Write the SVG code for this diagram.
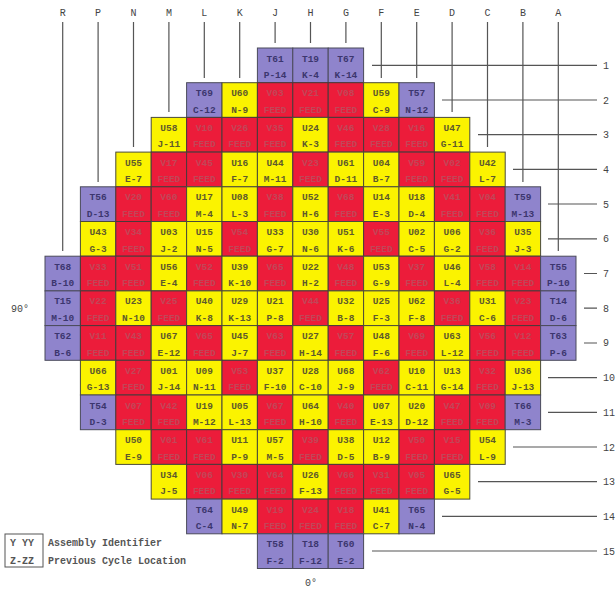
<svg xmlns="http://www.w3.org/2000/svg" width="616" height="591" viewBox="0 0 616 591">
<style>
.p{fill:#8f84cc;stroke:#4a4a5a;stroke-width:1}
.y{fill:#fbf300;stroke:#4a4a3a;stroke-width:1}
.r{fill:#ec1c3a;stroke:#4a3a3a;stroke-width:1}
text{font-family:"Liberation Mono","DejaVu Sans Mono",monospace;font-size:9.5px;font-weight:bold;text-anchor:middle}
.tp{fill:#3c366e}
.ty{fill:#5e5a2c}
.tr{fill:#c24658}
.lab{fill:#444;font-weight:normal;font-size:10px}
.leg{fill:#555;font-size:10px;text-anchor:start}
.ln{stroke:#555;stroke-width:1.2;fill:none}
</style>
<rect width="616" height="591" fill="#fff"/>
<g id="labels">
<text class="lab" x="62.7" y="16">R</text><text class="lab" x="98.1" y="16">P</text><text class="lab" x="133.5" y="16">N</text><text class="lab" x="168.9" y="16">M</text><text class="lab" x="204.3" y="16">L</text><text class="lab" x="239.7" y="16">K</text><text class="lab" x="275.1" y="16">J</text><text class="lab" x="310.5" y="16">H</text><text class="lab" x="345.9" y="16">G</text><text class="lab" x="381.3" y="16">F</text><text class="lab" x="416.7" y="16">E</text><text class="lab" x="452.1" y="16">D</text><text class="lab" x="487.5" y="16">C</text><text class="lab" x="522.9" y="16">B</text><text class="lab" x="558.3" y="16">A</text>
<g style="text-anchor:start">
<text class="lab" x="603" y="69" style="text-anchor:start">1</text><text class="lab" x="603" y="104" style="text-anchor:start">2</text><text class="lab" x="603" y="138" style="text-anchor:start">3</text><text class="lab" x="603" y="173" style="text-anchor:start">4</text><text class="lab" x="603" y="208" style="text-anchor:start">5</text><text class="lab" x="603" y="242" style="text-anchor:start">6</text><text class="lab" x="603" y="277" style="text-anchor:start">7</text><text class="lab" x="603" y="312" style="text-anchor:start">8</text><text class="lab" x="603" y="346" style="text-anchor:start">9</text><text class="lab" x="603" y="381" style="text-anchor:start">10</text><text class="lab" x="603" y="416" style="text-anchor:start">11</text><text class="lab" x="603" y="451" style="text-anchor:start">12</text><text class="lab" x="603" y="485" style="text-anchor:start">13</text><text class="lab" x="603" y="520" style="text-anchor:start">14</text><text class="lab" x="603" y="555" style="text-anchor:start">15</text>
</g>
<text class="lab" x="20" y="312">90°</text>
<text class="lab" x="311" y="586">0°</text>
</g>
<g id="connectors">
<path class="ln" d="M62.7 22V251M98.1 22V182M133.5 22V147M168.9 22V112M204.3 22V78M239.7 22V78M275.1 22V43M310.5 22V43M345.9 22V43M381.3 22V78M416.7 22V78M452.1 22V112M487.5 22V147M522.9 22V182M558.3 22V251"/>
<path class="ln" d="M372 65.4H597M442 100H597M478 134.7H597M513 169.4H597M548 204H597M548 238.8H597M584 273.5H597M584 308.2H597M584 343H597M548 377.6H597M548 412.3H597M513 447H597M478 481.7H597M442 516.4H597M372 551H597"/>
</g>
<g id="legend">
<rect x="5" y="534" width="38" height="33" fill="none" stroke="#555" stroke-width="1"/>
<text class="leg" x="10" y="546">Y YY</text>
<text class="leg" x="10" y="564">Z-ZZ</text>
<text class="leg" x="48" y="546">Assembly Identifier</text>
<text class="leg" x="48" y="564">Previous Cycle Location</text>
</g>
<g id="core">
<!-- row 1 -->
<g id="J1" transform="translate(257.4,48)"><rect class="p" width="35.4" height="34.7"/><text class="tp" x="17.7" y="13.5">T61</text><text class="tp" x="17.7" y="30">P-14</text></g>
<g id="H1" transform="translate(292.8,48)"><rect class="p" width="35.4" height="34.7"/><text class="tp" x="17.7" y="13.5">T19</text><text class="tp" x="17.7" y="30">K-4</text></g>
<g id="G1" transform="translate(328.2,48)"><rect class="p" width="35.4" height="34.7"/><text class="tp" x="17.7" y="13.5">T67</text><text class="tp" x="17.7" y="30">K-14</text></g>
<!-- row 2 -->
<g id="L2" transform="translate(186.6,82.7)"><rect class="p" width="35.4" height="34.7"/><text class="tp" x="17.7" y="13.5">T69</text><text class="tp" x="17.7" y="30">C-12</text></g>
<g id="K2" transform="translate(222,82.7)"><rect class="y" width="35.4" height="34.7"/><text class="ty" x="17.7" y="13.5">U60</text><text class="ty" x="17.7" y="30">N-9</text></g>
<g id="J2" transform="translate(257.4,82.7)"><rect class="r" width="35.4" height="34.7"/><text class="tr" x="17.7" y="13.5">V03</text><text class="tr" x="17.7" y="30">FEED</text></g>
<g id="H2" transform="translate(292.8,82.7)"><rect class="r" width="35.4" height="34.7"/><text class="tr" x="17.7" y="13.5">V21</text><text class="tr" x="17.7" y="30">FEED</text></g>
<g id="G2" transform="translate(328.2,82.7)"><rect class="r" width="35.4" height="34.7"/><text class="tr" x="17.7" y="13.5">V08</text><text class="tr" x="17.7" y="30">FEED</text></g>
<g id="F2" transform="translate(363.6,82.7)"><rect class="y" width="35.4" height="34.7"/><text class="ty" x="17.7" y="13.5">U59</text><text class="ty" x="17.7" y="30">C-9</text></g>
<g id="E2" transform="translate(399,82.7)"><rect class="p" width="35.4" height="34.7"/><text class="tp" x="17.7" y="13.5">T57</text><text class="tp" x="17.7" y="30">N-12</text></g>
<!-- row 3 -->
<g id="M3" transform="translate(151.2,117.4)"><rect class="y" width="35.4" height="34.7"/><text class="ty" x="17.7" y="13.5">U58</text><text class="ty" x="17.7" y="30">J-11</text></g>
<g id="L3" transform="translate(186.6,117.4)"><rect class="r" width="35.4" height="34.7"/><text class="tr" x="17.7" y="13.5">V10</text><text class="tr" x="17.7" y="30">FEED</text></g>
<g id="K3" transform="translate(222,117.4)"><rect class="r" width="35.4" height="34.7"/><text class="tr" x="17.7" y="13.5">V26</text><text class="tr" x="17.7" y="30">FEED</text></g>
<g id="J3" transform="translate(257.4,117.4)"><rect class="r" width="35.4" height="34.7"/><text class="tr" x="17.7" y="13.5">V35</text><text class="tr" x="17.7" y="30">FEED</text></g>
<g id="H3" transform="translate(292.8,117.4)"><rect class="y" width="35.4" height="34.7"/><text class="ty" x="17.7" y="13.5">U24</text><text class="ty" x="17.7" y="30">K-3</text></g>
<g id="G3" transform="translate(328.2,117.4)"><rect class="r" width="35.4" height="34.7"/><text class="tr" x="17.7" y="13.5">V46</text><text class="tr" x="17.7" y="30">FEED</text></g>
<g id="F3" transform="translate(363.6,117.4)"><rect class="r" width="35.4" height="34.7"/><text class="tr" x="17.7" y="13.5">V28</text><text class="tr" x="17.7" y="30">FEED</text></g>
<g id="E3" transform="translate(399,117.4)"><rect class="r" width="35.4" height="34.7"/><text class="tr" x="17.7" y="13.5">V16</text><text class="tr" x="17.7" y="30">FEED</text></g>
<g id="D3" transform="translate(434.4,117.4)"><rect class="y" width="35.4" height="34.7"/><text class="ty" x="17.7" y="13.5">U47</text><text class="ty" x="17.7" y="30">G-11</text></g>
<!-- row 4 -->
<g id="N4" transform="translate(115.8,152.1)"><rect class="y" width="35.4" height="34.7"/><text class="ty" x="17.7" y="13.5">U55</text><text class="ty" x="17.7" y="30">E-7</text></g>
<g id="M4" transform="translate(151.2,152.1)"><rect class="r" width="35.4" height="34.7"/><text class="tr" x="17.7" y="13.5">V17</text><text class="tr" x="17.7" y="30">FEED</text></g>
<g id="L4" transform="translate(186.6,152.1)"><rect class="r" width="35.4" height="34.7"/><text class="tr" x="17.7" y="13.5">V45</text><text class="tr" x="17.7" y="30">FEED</text></g>
<g id="K4" transform="translate(222,152.1)"><rect class="y" width="35.4" height="34.7"/><text class="ty" x="17.7" y="13.5">U16</text><text class="ty" x="17.7" y="30">F-7</text></g>
<g id="J4" transform="translate(257.4,152.1)"><rect class="y" width="35.4" height="34.7"/><text class="ty" x="17.7" y="13.5">U44</text><text class="ty" x="17.7" y="30">M-11</text></g>
<g id="H4" transform="translate(292.8,152.1)"><rect class="r" width="35.4" height="34.7"/><text class="tr" x="17.7" y="13.5">V23</text><text class="tr" x="17.7" y="30">FEED</text></g>
<g id="G4" transform="translate(328.2,152.1)"><rect class="y" width="35.4" height="34.7"/><text class="ty" x="17.7" y="13.5">U61</text><text class="ty" x="17.7" y="30">D-11</text></g>
<g id="F4" transform="translate(363.6,152.1)"><rect class="y" width="35.4" height="34.7"/><text class="ty" x="17.7" y="13.5">U04</text><text class="ty" x="17.7" y="30">B-7</text></g>
<g id="E4" transform="translate(399,152.1)"><rect class="r" width="35.4" height="34.7"/><text class="tr" x="17.7" y="13.5">V59</text><text class="tr" x="17.7" y="30">FEED</text></g>
<g id="D4" transform="translate(434.4,152.1)"><rect class="r" width="35.4" height="34.7"/><text class="tr" x="17.7" y="13.5">V02</text><text class="tr" x="17.7" y="30">FEED</text></g>
<g id="C4" transform="translate(469.8,152.1)"><rect class="y" width="35.4" height="34.7"/><text class="ty" x="17.7" y="13.5">U42</text><text class="ty" x="17.7" y="30">L-7</text></g>
<!-- row 5 -->
<g id="P5" transform="translate(80.4,186.8)"><rect class="p" width="35.4" height="34.7"/><text class="tp" x="17.7" y="13.5">T56</text><text class="tp" x="17.7" y="30">D-13</text></g>
<g id="N5" transform="translate(115.8,186.8)"><rect class="r" width="35.4" height="34.7"/><text class="tr" x="17.7" y="13.5">V20</text><text class="tr" x="17.7" y="30">FEED</text></g>
<g id="M5" transform="translate(151.2,186.8)"><rect class="r" width="35.4" height="34.7"/><text class="tr" x="17.7" y="13.5">V60</text><text class="tr" x="17.7" y="30">FEED</text></g>
<g id="L5" transform="translate(186.6,186.8)"><rect class="y" width="35.4" height="34.7"/><text class="ty" x="17.7" y="13.5">U17</text><text class="ty" x="17.7" y="30">M-4</text></g>
<g id="K5" transform="translate(222,186.8)"><rect class="y" width="35.4" height="34.7"/><text class="ty" x="17.7" y="13.5">U08</text><text class="ty" x="17.7" y="30">L-3</text></g>
<g id="J5" transform="translate(257.4,186.8)"><rect class="r" width="35.4" height="34.7"/><text class="tr" x="17.7" y="13.5">V38</text><text class="tr" x="17.7" y="30">FEED</text></g>
<g id="H5" transform="translate(292.8,186.8)"><rect class="y" width="35.4" height="34.7"/><text class="ty" x="17.7" y="13.5">U52</text><text class="ty" x="17.7" y="30">H-6</text></g>
<g id="G5" transform="translate(328.2,186.8)"><rect class="r" width="35.4" height="34.7"/><text class="tr" x="17.7" y="13.5">V68</text><text class="tr" x="17.7" y="30">FEED</text></g>
<g id="F5" transform="translate(363.6,186.8)"><rect class="y" width="35.4" height="34.7"/><text class="ty" x="17.7" y="13.5">U14</text><text class="ty" x="17.7" y="30">E-3</text></g>
<g id="E5" transform="translate(399,186.8)"><rect class="y" width="35.4" height="34.7"/><text class="ty" x="17.7" y="13.5">U18</text><text class="ty" x="17.7" y="30">D-4</text></g>
<g id="D5" transform="translate(434.4,186.8)"><rect class="r" width="35.4" height="34.7"/><text class="tr" x="17.7" y="13.5">V41</text><text class="tr" x="17.7" y="30">FEED</text></g>
<g id="C5" transform="translate(469.8,186.8)"><rect class="r" width="35.4" height="34.7"/><text class="tr" x="17.7" y="13.5">V04</text><text class="tr" x="17.7" y="30">FEED</text></g>
<g id="B5" transform="translate(505.2,186.8)"><rect class="p" width="35.4" height="34.7"/><text class="tp" x="17.7" y="13.5">T59</text><text class="tp" x="17.7" y="30">M-13</text></g>
<!-- row 6 -->
<g id="P6" transform="translate(80.4,221.5)"><rect class="y" width="35.4" height="34.7"/><text class="ty" x="17.7" y="13.5">U43</text><text class="ty" x="17.7" y="30">G-3</text></g>
<g id="N6" transform="translate(115.8,221.5)"><rect class="r" width="35.4" height="34.7"/><text class="tr" x="17.7" y="13.5">V34</text><text class="tr" x="17.7" y="30">FEED</text></g>
<g id="M6" transform="translate(151.2,221.5)"><rect class="y" width="35.4" height="34.7"/><text class="ty" x="17.7" y="13.5">U03</text><text class="ty" x="17.7" y="30">J-2</text></g>
<g id="L6" transform="translate(186.6,221.5)"><rect class="y" width="35.4" height="34.7"/><text class="ty" x="17.7" y="13.5">U15</text><text class="ty" x="17.7" y="30">N-5</text></g>
<g id="K6" transform="translate(222,221.5)"><rect class="r" width="35.4" height="34.7"/><text class="tr" x="17.7" y="13.5">V54</text><text class="tr" x="17.7" y="30">FEED</text></g>
<g id="J6" transform="translate(257.4,221.5)"><rect class="y" width="35.4" height="34.7"/><text class="ty" x="17.7" y="13.5">U33</text><text class="ty" x="17.7" y="30">G-7</text></g>
<g id="H6" transform="translate(292.8,221.5)"><rect class="y" width="35.4" height="34.7"/><text class="ty" x="17.7" y="13.5">U30</text><text class="ty" x="17.7" y="30">N-6</text></g>
<g id="G6" transform="translate(328.2,221.5)"><rect class="y" width="35.4" height="34.7"/><text class="ty" x="17.7" y="13.5">U51</text><text class="ty" x="17.7" y="30">K-6</text></g>
<g id="F6" transform="translate(363.6,221.5)"><rect class="r" width="35.4" height="34.7"/><text class="tr" x="17.7" y="13.5">V55</text><text class="tr" x="17.7" y="30">FEED</text></g>
<g id="E6" transform="translate(399,221.5)"><rect class="y" width="35.4" height="34.7"/><text class="ty" x="17.7" y="13.5">U02</text><text class="ty" x="17.7" y="30">C-5</text></g>
<g id="D6" transform="translate(434.4,221.5)"><rect class="y" width="35.4" height="34.7"/><text class="ty" x="17.7" y="13.5">U06</text><text class="ty" x="17.7" y="30">G-2</text></g>
<g id="C6" transform="translate(469.8,221.5)"><rect class="r" width="35.4" height="34.7"/><text class="tr" x="17.7" y="13.5">V36</text><text class="tr" x="17.7" y="30">FEED</text></g>
<g id="B6" transform="translate(505.2,221.5)"><rect class="y" width="35.4" height="34.7"/><text class="ty" x="17.7" y="13.5">U35</text><text class="ty" x="17.7" y="30">J-3</text></g>
<!-- row 7 -->
<g id="R7" transform="translate(45,256.2)"><rect class="p" width="35.4" height="34.7"/><text class="tp" x="17.7" y="13.5">T68</text><text class="tp" x="17.7" y="30">B-10</text></g>
<g id="P7" transform="translate(80.4,256.2)"><rect class="r" width="35.4" height="34.7"/><text class="tr" x="17.7" y="13.5">V33</text><text class="tr" x="17.7" y="30">FEED</text></g>
<g id="N7" transform="translate(115.8,256.2)"><rect class="r" width="35.4" height="34.7"/><text class="tr" x="17.7" y="13.5">V51</text><text class="tr" x="17.7" y="30">FEED</text></g>
<g id="M7" transform="translate(151.2,256.2)"><rect class="y" width="35.4" height="34.7"/><text class="ty" x="17.7" y="13.5">U56</text><text class="ty" x="17.7" y="30">E-4</text></g>
<g id="L7" transform="translate(186.6,256.2)"><rect class="r" width="35.4" height="34.7"/><text class="tr" x="17.7" y="13.5">V52</text><text class="tr" x="17.7" y="30">FEED</text></g>
<g id="K7" transform="translate(222,256.2)"><rect class="y" width="35.4" height="34.7"/><text class="ty" x="17.7" y="13.5">U39</text><text class="ty" x="17.7" y="30">K-10</text></g>
<g id="J7" transform="translate(257.4,256.2)"><rect class="r" width="35.4" height="34.7"/><text class="tr" x="17.7" y="13.5">V65</text><text class="tr" x="17.7" y="30">FEED</text></g>
<g id="H7" transform="translate(292.8,256.2)"><rect class="y" width="35.4" height="34.7"/><text class="ty" x="17.7" y="13.5">U22</text><text class="ty" x="17.7" y="30">H-2</text></g>
<g id="G7" transform="translate(328.2,256.2)"><rect class="r" width="35.4" height="34.7"/><text class="tr" x="17.7" y="13.5">V48</text><text class="tr" x="17.7" y="30">FEED</text></g>
<g id="F7" transform="translate(363.6,256.2)"><rect class="y" width="35.4" height="34.7"/><text class="ty" x="17.7" y="13.5">U53</text><text class="ty" x="17.7" y="30">G-9</text></g>
<g id="E7" transform="translate(399,256.2)"><rect class="r" width="35.4" height="34.7"/><text class="tr" x="17.7" y="13.5">V37</text><text class="tr" x="17.7" y="30">FEED</text></g>
<g id="D7" transform="translate(434.4,256.2)"><rect class="y" width="35.4" height="34.7"/><text class="ty" x="17.7" y="13.5">U46</text><text class="ty" x="17.7" y="30">L-4</text></g>
<g id="C7" transform="translate(469.8,256.2)"><rect class="r" width="35.4" height="34.7"/><text class="tr" x="17.7" y="13.5">V58</text><text class="tr" x="17.7" y="30">FEED</text></g>
<g id="B7" transform="translate(505.2,256.2)"><rect class="r" width="35.4" height="34.7"/><text class="tr" x="17.7" y="13.5">V14</text><text class="tr" x="17.7" y="30">FEED</text></g>
<g id="A7" transform="translate(540.6,256.2)"><rect class="p" width="35.4" height="34.7"/><text class="tp" x="17.7" y="13.5">T55</text><text class="tp" x="17.7" y="30">P-10</text></g>
<!-- row 8 -->
<g id="R8" transform="translate(45,290.9)"><rect class="p" width="35.4" height="34.7"/><text class="tp" x="17.7" y="13.5">T15</text><text class="tp" x="17.7" y="30">M-10</text></g>
<g id="P8" transform="translate(80.4,290.9)"><rect class="r" width="35.4" height="34.7"/><text class="tr" x="17.7" y="13.5">V22</text><text class="tr" x="17.7" y="30">FEED</text></g>
<g id="N8" transform="translate(115.8,290.9)"><rect class="y" width="35.4" height="34.7"/><text class="ty" x="17.7" y="13.5">U23</text><text class="ty" x="17.7" y="30">N-10</text></g>
<g id="M8" transform="translate(151.2,290.9)"><rect class="r" width="35.4" height="34.7"/><text class="tr" x="17.7" y="13.5">V25</text><text class="tr" x="17.7" y="30">FEED</text></g>
<g id="L8" transform="translate(186.6,290.9)"><rect class="y" width="35.4" height="34.7"/><text class="ty" x="17.7" y="13.5">U40</text><text class="ty" x="17.7" y="30">K-8</text></g>
<g id="K8" transform="translate(222,290.9)"><rect class="y" width="35.4" height="34.7"/><text class="ty" x="17.7" y="13.5">U29</text><text class="ty" x="17.7" y="30">K-13</text></g>
<g id="J8" transform="translate(257.4,290.9)"><rect class="y" width="35.4" height="34.7"/><text class="ty" x="17.7" y="13.5">U21</text><text class="ty" x="17.7" y="30">P-8</text></g>
<g id="H8" transform="translate(292.8,290.9)"><rect class="r" width="35.4" height="34.7"/><text class="tr" x="17.7" y="13.5">V44</text><text class="tr" x="17.7" y="30">FEED</text></g>
<g id="G8" transform="translate(328.2,290.9)"><rect class="y" width="35.4" height="34.7"/><text class="ty" x="17.7" y="13.5">U32</text><text class="ty" x="17.7" y="30">B-8</text></g>
<g id="F8" transform="translate(363.6,290.9)"><rect class="y" width="35.4" height="34.7"/><text class="ty" x="17.7" y="13.5">U25</text><text class="ty" x="17.7" y="30">F-3</text></g>
<g id="E8" transform="translate(399,290.9)"><rect class="y" width="35.4" height="34.7"/><text class="ty" x="17.7" y="13.5">U62</text><text class="ty" x="17.7" y="30">F-8</text></g>
<g id="D8" transform="translate(434.4,290.9)"><rect class="r" width="35.4" height="34.7"/><text class="tr" x="17.7" y="13.5">V36</text><text class="tr" x="17.7" y="30">FEED</text></g>
<g id="C8" transform="translate(469.8,290.9)"><rect class="y" width="35.4" height="34.7"/><text class="ty" x="17.7" y="13.5">U31</text><text class="ty" x="17.7" y="30">C-6</text></g>
<g id="B8" transform="translate(505.2,290.9)"><rect class="r" width="35.4" height="34.7"/><text class="tr" x="17.7" y="13.5">V23</text><text class="tr" x="17.7" y="30">FEED</text></g>
<g id="A8" transform="translate(540.6,290.9)"><rect class="p" width="35.4" height="34.7"/><text class="tp" x="17.7" y="13.5">T14</text><text class="tp" x="17.7" y="30">D-6</text></g>
<!-- row 9 -->
<g id="R9" transform="translate(45,325.6)"><rect class="p" width="35.4" height="34.7"/><text class="tp" x="17.7" y="13.5">T62</text><text class="tp" x="17.7" y="30">B-6</text></g>
<g id="P9" transform="translate(80.4,325.6)"><rect class="r" width="35.4" height="34.7"/><text class="tr" x="17.7" y="13.5">V11</text><text class="tr" x="17.7" y="30">FEED</text></g>
<g id="N9" transform="translate(115.8,325.6)"><rect class="r" width="35.4" height="34.7"/><text class="tr" x="17.7" y="13.5">V43</text><text class="tr" x="17.7" y="30">FEED</text></g>
<g id="M9" transform="translate(151.2,325.6)"><rect class="y" width="35.4" height="34.7"/><text class="ty" x="17.7" y="13.5">U67</text><text class="ty" x="17.7" y="30">E-12</text></g>
<g id="L9" transform="translate(186.6,325.6)"><rect class="r" width="35.4" height="34.7"/><text class="tr" x="17.7" y="13.5">V65</text><text class="tr" x="17.7" y="30">FEED</text></g>
<g id="K9" transform="translate(222,325.6)"><rect class="y" width="35.4" height="34.7"/><text class="ty" x="17.7" y="13.5">U45</text><text class="ty" x="17.7" y="30">J-7</text></g>
<g id="J9" transform="translate(257.4,325.6)"><rect class="r" width="35.4" height="34.7"/><text class="tr" x="17.7" y="13.5">V63</text><text class="tr" x="17.7" y="30">FEED</text></g>
<g id="H9" transform="translate(292.8,325.6)"><rect class="y" width="35.4" height="34.7"/><text class="ty" x="17.7" y="13.5">U27</text><text class="ty" x="17.7" y="30">H-14</text></g>
<g id="G9" transform="translate(328.2,325.6)"><rect class="r" width="35.4" height="34.7"/><text class="tr" x="17.7" y="13.5">V57</text><text class="tr" x="17.7" y="30">FEED</text></g>
<g id="F9" transform="translate(363.6,325.6)"><rect class="y" width="35.4" height="34.7"/><text class="ty" x="17.7" y="13.5">U48</text><text class="ty" x="17.7" y="30">F-6</text></g>
<g id="E9" transform="translate(399,325.6)"><rect class="r" width="35.4" height="34.7"/><text class="tr" x="17.7" y="13.5">V69</text><text class="tr" x="17.7" y="30">FEED</text></g>
<g id="D9" transform="translate(434.4,325.6)"><rect class="y" width="35.4" height="34.7"/><text class="ty" x="17.7" y="13.5">U63</text><text class="ty" x="17.7" y="30">L-12</text></g>
<g id="C9" transform="translate(469.8,325.6)"><rect class="r" width="35.4" height="34.7"/><text class="tr" x="17.7" y="13.5">V56</text><text class="tr" x="17.7" y="30">FEED</text></g>
<g id="B9" transform="translate(505.2,325.6)"><rect class="r" width="35.4" height="34.7"/><text class="tr" x="17.7" y="13.5">V12</text><text class="tr" x="17.7" y="30">FEED</text></g>
<g id="A9" transform="translate(540.6,325.6)"><rect class="p" width="35.4" height="34.7"/><text class="tp" x="17.7" y="13.5">T63</text><text class="tp" x="17.7" y="30">P-6</text></g>
<!-- row 10 -->
<g id="P10" transform="translate(80.4,360.3)"><rect class="y" width="35.4" height="34.7"/><text class="ty" x="17.7" y="13.5">U66</text><text class="ty" x="17.7" y="30">G-13</text></g>
<g id="N10" transform="translate(115.8,360.3)"><rect class="r" width="35.4" height="34.7"/><text class="tr" x="17.7" y="13.5">V27</text><text class="tr" x="17.7" y="30">FEED</text></g>
<g id="M10" transform="translate(151.2,360.3)"><rect class="y" width="35.4" height="34.7"/><text class="ty" x="17.7" y="13.5">U01</text><text class="ty" x="17.7" y="30">J-14</text></g>
<g id="L10" transform="translate(186.6,360.3)"><rect class="y" width="35.4" height="34.7"/><text class="ty" x="17.7" y="13.5">U09</text><text class="ty" x="17.7" y="30">N-11</text></g>
<g id="K10" transform="translate(222,360.3)"><rect class="r" width="35.4" height="34.7"/><text class="tr" x="17.7" y="13.5">V53</text><text class="tr" x="17.7" y="30">FEED</text></g>
<g id="J10" transform="translate(257.4,360.3)"><rect class="y" width="35.4" height="34.7"/><text class="ty" x="17.7" y="13.5">U37</text><text class="ty" x="17.7" y="30">F-10</text></g>
<g id="H10" transform="translate(292.8,360.3)"><rect class="y" width="35.4" height="34.7"/><text class="ty" x="17.7" y="13.5">U28</text><text class="ty" x="17.7" y="30">C-10</text></g>
<g id="G10" transform="translate(328.2,360.3)"><rect class="y" width="35.4" height="34.7"/><text class="ty" x="17.7" y="13.5">U68</text><text class="ty" x="17.7" y="30">J-9</text></g>
<g id="F10" transform="translate(363.6,360.3)"><rect class="r" width="35.4" height="34.7"/><text class="tr" x="17.7" y="13.5">V62</text><text class="tr" x="17.7" y="30">FEED</text></g>
<g id="E10" transform="translate(399,360.3)"><rect class="y" width="35.4" height="34.7"/><text class="ty" x="17.7" y="13.5">U10</text><text class="ty" x="17.7" y="30">C-11</text></g>
<g id="D10" transform="translate(434.4,360.3)"><rect class="y" width="35.4" height="34.7"/><text class="ty" x="17.7" y="13.5">U13</text><text class="ty" x="17.7" y="30">G-14</text></g>
<g id="C10" transform="translate(469.8,360.3)"><rect class="r" width="35.4" height="34.7"/><text class="tr" x="17.7" y="13.5">V32</text><text class="tr" x="17.7" y="30">FEED</text></g>
<g id="B10" transform="translate(505.2,360.3)"><rect class="y" width="35.4" height="34.7"/><text class="ty" x="17.7" y="13.5">U36</text><text class="ty" x="17.7" y="30">J-13</text></g>
<!-- row 11 -->
<g id="P11" transform="translate(80.4,395)"><rect class="p" width="35.4" height="34.7"/><text class="tp" x="17.7" y="13.5">T54</text><text class="tp" x="17.7" y="30">D-3</text></g>
<g id="N11" transform="translate(115.8,395)"><rect class="r" width="35.4" height="34.7"/><text class="tr" x="17.7" y="13.5">V07</text><text class="tr" x="17.7" y="30">FEED</text></g>
<g id="M11" transform="translate(151.2,395)"><rect class="r" width="35.4" height="34.7"/><text class="tr" x="17.7" y="13.5">V42</text><text class="tr" x="17.7" y="30">FEED</text></g>
<g id="L11" transform="translate(186.6,395)"><rect class="y" width="35.4" height="34.7"/><text class="ty" x="17.7" y="13.5">U19</text><text class="ty" x="17.7" y="30">M-12</text></g>
<g id="K11" transform="translate(222,395)"><rect class="y" width="35.4" height="34.7"/><text class="ty" x="17.7" y="13.5">U05</text><text class="ty" x="17.7" y="30">L-13</text></g>
<g id="J11" transform="translate(257.4,395)"><rect class="r" width="35.4" height="34.7"/><text class="tr" x="17.7" y="13.5">V67</text><text class="tr" x="17.7" y="30">FEED</text></g>
<g id="H11" transform="translate(292.8,395)"><rect class="y" width="35.4" height="34.7"/><text class="ty" x="17.7" y="13.5">U64</text><text class="ty" x="17.7" y="30">H-10</text></g>
<g id="G11" transform="translate(328.2,395)"><rect class="r" width="35.4" height="34.7"/><text class="tr" x="17.7" y="13.5">V40</text><text class="tr" x="17.7" y="30">FEED</text></g>
<g id="F11" transform="translate(363.6,395)"><rect class="y" width="35.4" height="34.7"/><text class="ty" x="17.7" y="13.5">U07</text><text class="ty" x="17.7" y="30">E-13</text></g>
<g id="E11" transform="translate(399,395)"><rect class="y" width="35.4" height="34.7"/><text class="ty" x="17.7" y="13.5">U20</text><text class="ty" x="17.7" y="30">D-12</text></g>
<g id="D11" transform="translate(434.4,395)"><rect class="r" width="35.4" height="34.7"/><text class="tr" x="17.7" y="13.5">V47</text><text class="tr" x="17.7" y="30">FEED</text></g>
<g id="C11" transform="translate(469.8,395)"><rect class="r" width="35.4" height="34.7"/><text class="tr" x="17.7" y="13.5">V09</text><text class="tr" x="17.7" y="30">FEED</text></g>
<g id="B11" transform="translate(505.2,395)"><rect class="p" width="35.4" height="34.7"/><text class="tp" x="17.7" y="13.5">T66</text><text class="tp" x="17.7" y="30">M-3</text></g>
<!-- row 12 -->
<g id="N12" transform="translate(115.8,429.7)"><rect class="y" width="35.4" height="34.7"/><text class="ty" x="17.7" y="13.5">U50</text><text class="ty" x="17.7" y="30">E-9</text></g>
<g id="M12" transform="translate(151.2,429.7)"><rect class="r" width="35.4" height="34.7"/><text class="tr" x="17.7" y="13.5">V01</text><text class="tr" x="17.7" y="30">FEED</text></g>
<g id="L12" transform="translate(186.6,429.7)"><rect class="r" width="35.4" height="34.7"/><text class="tr" x="17.7" y="13.5">V61</text><text class="tr" x="17.7" y="30">FEED</text></g>
<g id="K12" transform="translate(222,429.7)"><rect class="y" width="35.4" height="34.7"/><text class="ty" x="17.7" y="13.5">U11</text><text class="ty" x="17.7" y="30">P-9</text></g>
<g id="J12" transform="translate(257.4,429.7)"><rect class="y" width="35.4" height="34.7"/><text class="ty" x="17.7" y="13.5">U57</text><text class="ty" x="17.7" y="30">M-5</text></g>
<g id="H12" transform="translate(292.8,429.7)"><rect class="r" width="35.4" height="34.7"/><text class="tr" x="17.7" y="13.5">V39</text><text class="tr" x="17.7" y="30">FEED</text></g>
<g id="G12" transform="translate(328.2,429.7)"><rect class="y" width="35.4" height="34.7"/><text class="ty" x="17.7" y="13.5">U38</text><text class="ty" x="17.7" y="30">D-5</text></g>
<g id="F12" transform="translate(363.6,429.7)"><rect class="y" width="35.4" height="34.7"/><text class="ty" x="17.7" y="13.5">U12</text><text class="ty" x="17.7" y="30">B-9</text></g>
<g id="E12" transform="translate(399,429.7)"><rect class="r" width="35.4" height="34.7"/><text class="tr" x="17.7" y="13.5">V50</text><text class="tr" x="17.7" y="30">FEED</text></g>
<g id="D12" transform="translate(434.4,429.7)"><rect class="r" width="35.4" height="34.7"/><text class="tr" x="17.7" y="13.5">V15</text><text class="tr" x="17.7" y="30">FEED</text></g>
<g id="C12" transform="translate(469.8,429.7)"><rect class="y" width="35.4" height="34.7"/><text class="ty" x="17.7" y="13.5">U54</text><text class="ty" x="17.7" y="30">L-9</text></g>
<!-- row 13 -->
<g id="M13" transform="translate(151.2,464.4)"><rect class="y" width="35.4" height="34.7"/><text class="ty" x="17.7" y="13.5">U34</text><text class="ty" x="17.7" y="30">J-5</text></g>
<g id="L13" transform="translate(186.6,464.4)"><rect class="r" width="35.4" height="34.7"/><text class="tr" x="17.7" y="13.5">V06</text><text class="tr" x="17.7" y="30">FEED</text></g>
<g id="K13" transform="translate(222,464.4)"><rect class="r" width="35.4" height="34.7"/><text class="tr" x="17.7" y="13.5">V30</text><text class="tr" x="17.7" y="30">FEED</text></g>
<g id="J13" transform="translate(257.4,464.4)"><rect class="r" width="35.4" height="34.7"/><text class="tr" x="17.7" y="13.5">V64</text><text class="tr" x="17.7" y="30">FEED</text></g>
<g id="H13" transform="translate(292.8,464.4)"><rect class="y" width="35.4" height="34.7"/><text class="ty" x="17.7" y="13.5">U26</text><text class="ty" x="17.7" y="30">F-13</text></g>
<g id="G13" transform="translate(328.2,464.4)"><rect class="r" width="35.4" height="34.7"/><text class="tr" x="17.7" y="13.5">V66</text><text class="tr" x="17.7" y="30">FEED</text></g>
<g id="F13" transform="translate(363.6,464.4)"><rect class="r" width="35.4" height="34.7"/><text class="tr" x="17.7" y="13.5">V31</text><text class="tr" x="17.7" y="30">FEED</text></g>
<g id="E13" transform="translate(399,464.4)"><rect class="r" width="35.4" height="34.7"/><text class="tr" x="17.7" y="13.5">V05</text><text class="tr" x="17.7" y="30">FEED</text></g>
<g id="D13" transform="translate(434.4,464.4)"><rect class="y" width="35.4" height="34.7"/><text class="ty" x="17.7" y="13.5">U65</text><text class="ty" x="17.7" y="30">G-5</text></g>
<!-- row 14 -->
<g id="L14" transform="translate(186.6,499.1)"><rect class="p" width="35.4" height="34.7"/><text class="tp" x="17.7" y="13.5">T64</text><text class="tp" x="17.7" y="30">C-4</text></g>
<g id="K14" transform="translate(222,499.1)"><rect class="y" width="35.4" height="34.7"/><text class="ty" x="17.7" y="13.5">U49</text><text class="ty" x="17.7" y="30">N-7</text></g>
<g id="J14" transform="translate(257.4,499.1)"><rect class="r" width="35.4" height="34.7"/><text class="tr" x="17.7" y="13.5">V19</text><text class="tr" x="17.7" y="30">FEED</text></g>
<g id="H14" transform="translate(292.8,499.1)"><rect class="r" width="35.4" height="34.7"/><text class="tr" x="17.7" y="13.5">V24</text><text class="tr" x="17.7" y="30">FEED</text></g>
<g id="G14" transform="translate(328.2,499.1)"><rect class="r" width="35.4" height="34.7"/><text class="tr" x="17.7" y="13.5">V18</text><text class="tr" x="17.7" y="30">FEED</text></g>
<g id="F14" transform="translate(363.6,499.1)"><rect class="y" width="35.4" height="34.7"/><text class="ty" x="17.7" y="13.5">U41</text><text class="ty" x="17.7" y="30">C-7</text></g>
<g id="E14" transform="translate(399,499.1)"><rect class="p" width="35.4" height="34.7"/><text class="tp" x="17.7" y="13.5">T65</text><text class="tp" x="17.7" y="30">N-4</text></g>
<!-- row 15 -->
<g id="J15" transform="translate(257.4,533.8)"><rect class="p" width="35.4" height="34.7"/><text class="tp" x="17.7" y="13.5">T58</text><text class="tp" x="17.7" y="30">F-2</text></g>
<g id="H15" transform="translate(292.8,533.8)"><rect class="p" width="35.4" height="34.7"/><text class="tp" x="17.7" y="13.5">T18</text><text class="tp" x="17.7" y="30">F-12</text></g>
<g id="G15" transform="translate(328.2,533.8)"><rect class="p" width="35.4" height="34.7"/><text class="tp" x="17.7" y="13.5">T60</text><text class="tp" x="17.7" y="30">E-2</text></g>
</g>
</svg>
